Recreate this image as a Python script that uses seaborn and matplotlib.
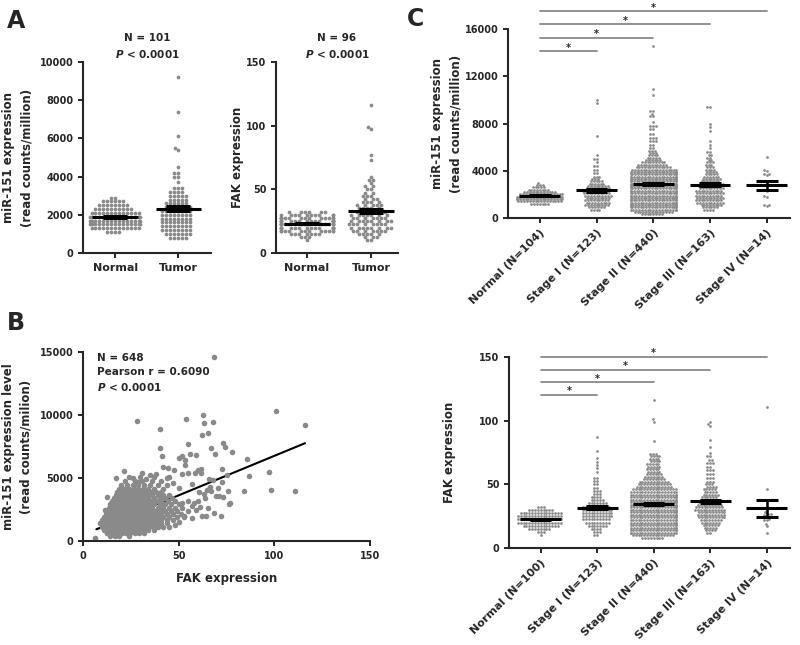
import numpy as np
import pandas as pd
import matplotlib
matplotlib.use("Agg")
import matplotlib.pyplot as plt
import seaborn as sns

# ---------------- data ----------------
# swarm panels: each dot row (value) and the number of dots in that row

# A, miR-151 (read counts/million)
a_mir_normal_vals = [1100, 1300, 1500, 1700, 1900, 2100, 2300, 2500, 2700, 2900]
a_mir_normal_counts = [4, 13, 15, 15, 15, 13, 10, 8, 6, 2]
a_mir_tumor_vals = [800, 1000, 1200, 1400, 1600, 1800, 2000, 2200, 2400, 2600, 2800, 3000,
                    3200, 3400, 3700, 4000, 4200, 4500, 5400, 5500, 6100, 7400, 9200]
a_mir_tumor_counts = [5, 7, 8, 8, 8, 8, 8, 8, 7, 6, 5, 5, 4, 3, 1, 2, 2, 1, 1, 1, 1, 1, 1]

# A, FAK expression
a_fak_normal_vals = [10, 12.5, 15, 17.5, 20, 22.5, 25, 27.5, 30, 32.5]
a_fak_normal_counts = [1, 3, 7, 12, 14, 15, 15, 13, 10, 6]
a_fak_tumor_vals = [10, 12.5, 15, 17.5, 20, 22.5, 25, 27.5, 30, 32.5, 35, 37.5, 40, 42.5, 45,
                    47.5, 50, 52.5, 55, 57.5, 60, 73, 77, 97, 99, 116]
a_fak_tumor_counts = [2, 3, 5, 7, 8, 8, 8, 7, 7, 6, 5, 5, 4, 3, 3, 2, 2, 2, 1, 2, 1, 1, 1, 1, 1, 1]

# C top, miR-151 by stage
c_mir_labels = ["Normal (N=104)", "Stage I (N=123)", "Stage II (N=440)",
                "Stage III (N=163)", "Stage IV (N=14)"]
c_mir_normal_vals = [1200, 1400, 1600, 1800, 2000, 2200, 2400, 2600, 2800, 3000]
c_mir_normal_counts = [7, 16, 18, 18, 16, 12, 8, 5, 3, 1]
c_mir_s1_vals = [700, 900, 1100, 1300, 1500, 1700, 1900, 2100, 2300, 2500, 2700, 2900, 3100,
                 3300, 3500, 3800, 4100, 4400, 4700, 5000, 5300, 6900, 9700, 10000]
c_mir_s1_counts = [4, 6, 9, 9, 9, 9, 10, 10, 10, 9, 8, 6, 5, 3, 3, 2, 2, 2, 1, 2, 1, 1, 1, 1]
c_mir_s2_vals = [300, 500, 700, 900, 1100, 1300, 1500, 1700, 1900, 2100, 2300, 2500, 2700,
                 2900, 3100, 3300, 3500, 3700, 3900, 4100, 4300, 4500, 4700, 4900, 5100,
                 5300, 5500, 5700, 5900, 6200, 6500, 6800, 7100, 7500, 7800, 8100, 8600,
                 8800, 9100, 10400, 10900, 14600]
c_mir_s2_counts = [8, 14, 18, 19, 19, 19, 19, 19, 19, 19, 19, 19, 19, 19, 19, 19, 19, 19,
                   18, 17, 13, 11, 9, 6, 5, 4, 3, 3, 2, 2, 3, 3, 2, 2, 3, 1, 2, 1, 2, 1, 1, 1]
c_mir_s3_vals = [700, 900, 1100, 1300, 1500, 1700, 1900, 2100, 2300, 2500, 2700, 2900, 3100,
                 3300, 3500, 3700, 3900, 4100, 4300, 4500, 4700, 4900, 5100, 5300, 5600,
                 5900, 6200, 6500, 7400, 7700, 8000, 9400]
c_mir_s3_counts = [4, 6, 8, 10, 10, 10, 10, 10, 10, 9, 9, 9, 7, 7, 6, 5, 4, 4, 3, 3, 3, 2,
                   2, 2, 2, 1, 1, 1, 1, 1, 1, 2]
c_mir_s4_vals = [5200, 4100, 4000, 3700, 3600, 2700, 2400, 2300, 1900, 1800, 1100, 1000]
c_mir_s4_counts = [1, 1, 1, 2, 1, 1, 1, 1, 1, 1, 2, 1]

# C bottom, FAK by stage
c_fak_labels = ["Normal (N=100)", "Stage I (N=123)", "Stage II (N=440)",
                "Stage III (N=163)", "Stage IV (N=14)"]
c_fak_normal_vals = [10, 12.5, 15, 17.5, 20, 22.5, 25, 27.5, 30, 32.5]
c_fak_normal_counts = [1, 3, 8, 13, 16, 16, 16, 15, 9, 3]
c_fak_s1_vals = [10, 12.5, 15, 17.5, 20, 22.5, 25, 27.5, 30, 32.5, 35, 37.5, 40, 42.5, 45,
                 47.5, 50, 52.5, 55, 60, 62.5, 65, 67.5, 71, 76, 87]
c_fak_s1_counts = [2, 3, 4, 7, 9, 10, 11, 11, 11, 10, 7, 5, 4, 3, 3, 2, 2, 2, 2, 1, 1, 1, 1,
                   1, 1, 1]
c_fak_s2_vals = [8, 10, 12, 14, 16, 18, 20, 22, 24, 26, 28, 30, 32, 34, 36, 38, 40, 42, 44,
                 46, 48, 50, 52, 54, 56, 58, 60, 62, 64, 66, 68, 70, 72, 74, 84, 99, 101, 116]
c_fak_s2_counts = [8, 15, 18, 18, 18, 18, 18, 18, 18, 18, 18, 18, 18, 18, 18, 18, 18, 18, 17,
                   16, 13, 12, 11, 8, 7, 6, 5, 5, 5, 5, 4, 4, 4, 3, 1, 1, 1, 1]
c_fak_s3_vals = [12, 14, 16, 18, 20, 22, 24, 26, 28, 30, 32, 34, 36, 38, 40, 42, 44, 46, 48,
                 50, 52, 55, 58, 61, 64, 67, 69, 72, 75, 79, 85, 96, 97, 99]
c_fak_s3_counts = [2, 4, 5, 6, 7, 8, 10, 10, 10, 11, 10, 9, 8, 7, 6, 6, 5, 5, 4, 3, 3, 3, 3,
                   3, 2, 3, 2, 2, 1, 1, 1, 1, 1, 1]
c_fak_s4_vals = [111, 46, 31, 28, 27, 26, 25, 23, 22, 19, 17, 12]
c_fak_s4_counts = [1, 1, 1, 1, 2, 1, 1, 1, 2, 1, 1, 1]

# significance bars (Normal vs each stage)
c_mir_sig_y = [14100, 15250, 16400, 17500]
c_fak_sig_y = [120, 130, 140, 150]

# B, scatter: FAK vs miR-151, dense cloud as rows of dots
b_blob_mir = [400, 650, 900, 1150, 1400, 1650, 1900, 2150, 2400, 2650, 2900, 3150, 3400,
              3650, 3900, 4150, 4450, 4750, 5050]
b_blob_fak = [
    [14, 16.5, 19, 24],
    [12.5, 14.5, 16.5, 18.5, 20.5, 22.5, 24.5, 27, 29.5, 32],
    [11, 13, 15, 17, 19, 21, 23, 25, 27, 29, 31.5, 34, 37],
    [10, 12, 14, 16, 18, 20, 22, 24, 26, 28, 30, 32, 34, 36.5, 39, 42],
    [9, 11.5, 13.5, 15.5, 17.5, 19.5, 21.5, 23.5, 25.5, 27.5, 29.5, 31.5, 33.5, 35.5, 38, 41, 44],
    [10, 12, 14, 16, 18, 20, 22, 24, 26, 28, 30, 32, 34, 36, 38.5, 41, 44, 47],
    [11, 13, 15, 17, 19, 21, 23, 25, 27, 29, 31, 33, 35, 37, 39.5, 42, 45, 49, 53],
    [12, 14, 16, 18, 20, 22, 24, 26, 28, 30, 32, 34, 36, 38, 41, 44, 47, 51],
    [13, 15, 17, 19, 21, 23, 25, 27, 29, 31, 33, 35, 37.5, 40, 43, 46, 49],
    [13.5, 15.5, 17.5, 19.5, 21.5, 23.5, 25.5, 27.5, 29.5, 31.5, 33.5, 36, 39, 42, 45, 48, 52],
    [14, 16, 18, 20, 22, 24, 26, 28, 30, 32, 34.5, 37, 40, 43, 46, 50],
    [15, 17, 19, 21, 23, 25, 27, 29, 31, 33, 35.5, 38, 41, 44.5, 48],
    [16, 18, 20, 22, 24, 26, 28, 30, 32, 34, 37, 40, 43, 46.5],
    [17, 19, 21, 23, 25, 27, 29, 31, 33.5, 36, 39, 42, 45],
    [18, 20.5, 22.5, 24.5, 26.5, 28.5, 30.5, 33, 35.5, 38, 41],
    [19, 21.5, 24, 26.5, 29, 31.5, 34, 37, 42],
    [20, 23, 26, 29, 32, 35, 39, 44],
    [22, 27, 31, 36, 41],
    [24, 30, 37, 45],
]
b_fak_outer = [6.5, 68.5, 101, 116, 62.5, 54, 28, 68, 63, 40,
               62, 65.5, 73, 74, 67, 40, 55, 78, 69, 56,
               59, 41.5, 52, 50, 53.5, 85.5, 44.5, 42, 47.5, 60,
               61.5, 21.5, 53.5, 72.5, 97, 87, 75, 58.5, 61.5, 51.5,
               55, 31, 35, 84, 98.5, 111, 76, 70.5, 65, 67,
               77, 76.5, 72, 62, 64.5, 68.5, 61, 65.5, 55, 53,
               64, 69.5, 71, 73, 60.5, 66.5, 72.5, 66, 68, 12.5,
               11.5, 17.5, 57, 58, 59, 57, 50, 48, 45, 52,
               55, 50, 47, 44, 38, 33, 26, 29, 63, 60, 57]
b_mir_outer = [200, 14600, 10300, 9200, 10000, 9700, 9500, 9450, 9350, 8900,
               8450, 8550, 7800, 7500, 7350, 7400, 7700, 7050, 6900, 6880,
               6800, 6750, 6780, 6550, 6400, 6500, 5820, 5900, 5650, 5650,
               5700, 5550, 6050, 5750, 5500, 5150, 5200, 5400, 5400, 5350,
               5370, 5370, 5270, 4000, 4050, 4000, 4000, 4200, 4050, 4000,
               3000, 2950, 2000, 1950, 1950, 2200, 2700, 2600, 2350, 2000,
               3400, 3550, 3600, 3500, 3900, 4300, 4700, 4900, 4850, 3500,
               2450, 5000, 4500, 3000, 2500, 1800, 1500, 1300, 1100, 3000,
               3200, 4200, 4600, 5000, 5300, 4900, 5000, 4700, 3700, 3200, 2800]
# regression line end points
b_fit_fak = [7, 116]
b_fit_mir = [930, 7760]

GREY = "#8a8a8a"
SIG = "#808080"

sns.set_style("ticks")
plt.rcParams["font.family"] = ["DejaVu Sans"]
plt.rcParams["font.weight"] = "bold"
plt.rcParams["axes.labelweight"] = "bold"
plt.rcParams["axes.linewidth"] = 1.5
plt.rcParams["xtick.major.width"] = 1.4
plt.rcParams["ytick.major.width"] = 1.4
plt.rcParams["xtick.major.size"] = 3.5
plt.rcParams["ytick.major.size"] = 3.5
plt.rcParams["xtick.labelsize"] = 7
plt.rcParams["ytick.labelsize"] = 7
plt.rcParams["mathtext.fontset"] = "custom"
plt.rcParams["mathtext.it"] = "DejaVu Sans:italic:bold"
plt.rcParams["mathtext.rm"] = "DejaVu Sans:bold"

W, H = 800, 645
fig = plt.figure(figsize=(W / 100, H / 100), dpi=100)


def px_axes(x0, y0, x1, y1):
    return fig.add_axes([x0 / W, 1 - y1 / H, (x1 - x0) / W, (y1 - y0) / H])


def swarm(ax, labels, vals, counts, size):
    groups = [np.repeat(v, c) for v, c in zip(vals, counts)]
    df = pd.DataFrame({"group": np.repeat(labels, [len(g) for g in groups]),
                       "value": np.concatenate(groups)})
    sns.swarmplot(data=df, x="group", y="value", order=labels, color=GREY,
                  size=size, linewidth=0, warn_thresh=1, ax=ax)
    # mean with SEM
    for i, g in enumerate(groups):
        m = g.mean()
        s = g.std(ddof=1) / np.sqrt(len(g))
        ax.hlines(m, i - 0.36, i + 0.36, color="black", lw=2.2, zorder=5)
        ax.vlines(i, m - s, m + s, color="black", lw=1.8, zorder=5)
        ax.hlines([m - s, m + s], i - 0.19, i + 0.19, color="black", lw=2.2, zorder=5)
    ax.set_xlabel("")
    ax.set_ylabel("")
    sns.despine(ax=ax)


def sig_bars(ax, ys, star_pad):
    for j, y in enumerate(ys, start=1):
        ax.plot([0, j], [y, y], color=SIG, lw=1.2, clip_on=False)
        ax.text(j / 2, y + star_pad, "*", ha="center", va="baseline", fontsize=7,
                clip_on=False)


# ---------------- A: miR-151 ----------------
ax = px_axes(83, 62, 211, 253)
swarm(ax, ["Normal", "Tumor"], [a_mir_normal_vals, a_mir_tumor_vals],
      [a_mir_normal_counts, a_mir_tumor_counts], 2.7)
ax.set_xlim(-0.51, 1.52)
ax.set_ylim(0, 10000)
ax.set_yticks(range(0, 10001, 2000))
ax.tick_params(axis="x", labelsize=8)
ax.set_ylabel("miR-151 expression\n(read counts/million)", fontsize=8.5, linespacing=1.5)
ax.yaxis.set_label_coords(-0.39, 0.5)
ax.text(0.5, 1.125, "N = 101", transform=ax.transAxes, ha="center", va="center", fontsize=7.5)
ax.text(0.5, 1.04, r"$\mathit{P}$ < 0.0001", transform=ax.transAxes, ha="center",
        va="center", fontsize=7.5)

# ---------------- A: FAK ----------------
ax = px_axes(276, 62, 398, 253)
swarm(ax, ["Normal", "Tumor"], [a_fak_normal_vals, a_fak_tumor_vals],
      [a_fak_normal_counts, a_fak_tumor_counts], 2.7)
ax.set_xlim(-0.48, 1.42)
ax.set_ylim(0, 150)
ax.set_yticks([0, 50, 100, 150])
ax.tick_params(axis="x", labelsize=8)
ax.set_ylabel("FAK expression", fontsize=8.5)
ax.yaxis.set_label_coords(-0.26, 0.5)
ax.text(0.5, 1.125, "N = 96", transform=ax.transAxes, ha="center", va="center", fontsize=7.5)
ax.text(0.5, 1.04, r"$\mathit{P}$ < 0.0001", transform=ax.transAxes, ha="center",
        va="center", fontsize=7.5)

# ---------------- B: scatter ----------------
b_fak = list(b_fak_outer)
b_mir = list(b_mir_outer)
for level, row in zip(b_blob_mir, b_blob_fak):
    b_fak += row
    b_mir += [level] * len(row)
df_b = pd.DataFrame({"FAK": b_fak, "miR": b_mir})

ax = px_axes(83, 352, 370, 541)
sns.lineplot(x=b_fit_fak, y=b_fit_mir, color="black", lw=1.5, ax=ax, zorder=1)
sns.scatterplot(data=df_b, x="FAK", y="miR", color=GREY, s=16, linewidth=0, ax=ax, zorder=2)
sns.despine(ax=ax)
ax.set_xlim(0, 150)
ax.set_ylim(0, 15000)
ax.set_xticks([0, 50, 100, 150])
ax.set_yticks([0, 5000, 10000, 15000])
ax.set_xlabel("FAK expression", fontsize=8.5)
ax.xaxis.set_label_coords(0.5, -0.165)
ax.set_ylabel("miR-151 expression level\n(read counts/milion)", fontsize=8.5, linespacing=1.5)
ax.yaxis.set_label_coords(-0.175, 0.5)
ax.text(0.05, 0.97, "N = 648", transform=ax.transAxes, ha="left", va="center", fontsize=7.5)
ax.text(0.05, 0.893, "Pearson r = 0.6090", transform=ax.transAxes, ha="left", va="center",
        fontsize=7.5)
ax.text(0.05, 0.815, r"$\mathit{P}$ < 0.0001", transform=ax.transAxes, ha="left",
        va="center", fontsize=7.5)

# ---------------- C: miR-151 by stage ----------------
ax = px_axes(508, 29, 790, 218)
swarm(ax, c_mir_labels,
      [c_mir_normal_vals, c_mir_s1_vals, c_mir_s2_vals, c_mir_s3_vals, c_mir_s4_vals],
      [c_mir_normal_counts, c_mir_s1_counts, c_mir_s2_counts, c_mir_s3_counts, c_mir_s4_counts],
      1.95)
ax.set_xlim(-0.56, 4.41)
ax.set_ylim(0, 16000)
ax.set_yticks(range(0, 16001, 4000))
ax.set_xticks(range(5))
ax.set_xticklabels(c_mir_labels, rotation=45, ha="right", rotation_mode="anchor", fontsize=8)
ax.set_ylabel("miR-151 expression\n(read counts/million)", fontsize=8.5, linespacing=1.5)
ax.yaxis.set_label_coords(-0.163, 0.5)
sig_bars(ax, c_mir_sig_y, 40)

# ---------------- C: FAK by stage ----------------
ax = px_axes(509, 357, 790, 548)
swarm(ax, c_fak_labels,
      [c_fak_normal_vals, c_fak_s1_vals, c_fak_s2_vals, c_fak_s3_vals, c_fak_s4_vals],
      [c_fak_normal_counts, c_fak_s1_counts, c_fak_s2_counts, c_fak_s3_counts, c_fak_s4_counts],
      1.95)
ax.set_xlim(-0.56, 4.41)
ax.set_ylim(0, 150)
ax.set_yticks([0, 50, 100, 150])
ax.set_xticks(range(5))
ax.set_xticklabels(c_fak_labels, rotation=45, ha="right", rotation_mode="anchor", fontsize=8)
ax.set_ylabel("FAK expression", fontsize=8.5)
ax.yaxis.set_label_coords(-0.19, 0.5)
sig_bars(ax, c_fak_sig_y, 0.6)

# panel letters
fig.text(16 / W, 1 - 21 / H, "A", fontsize=17, ha="center", va="center")
fig.text(16 / W, 1 - 323 / H, "B", fontsize=17, ha="center", va="center")
fig.text(416 / W, 1 - 19 / H, "C", fontsize=17, ha="center", va="center")

fig.savefig("out.png", dpi=100)
